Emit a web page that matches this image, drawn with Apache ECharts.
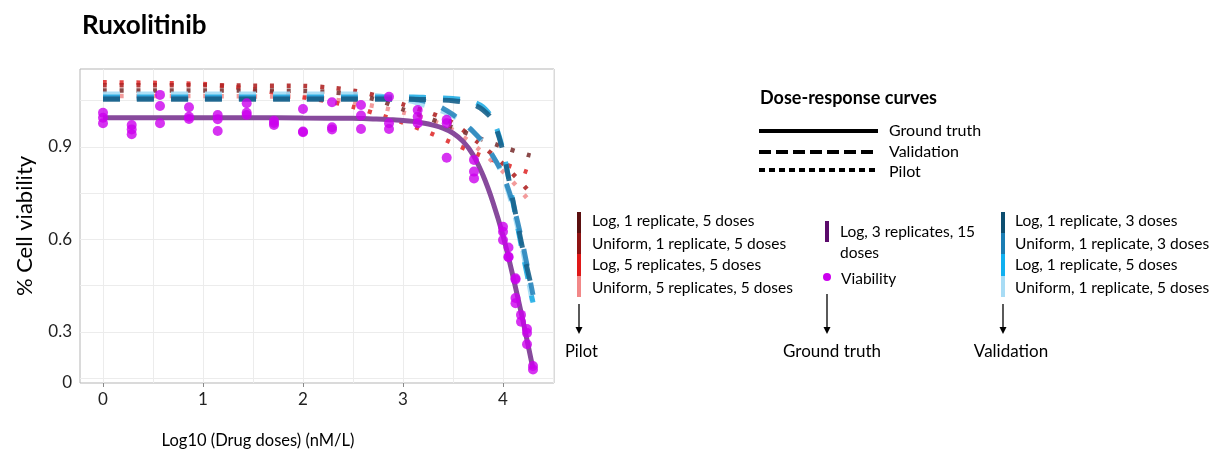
<!DOCTYPE html>
<html>
<head>
<meta charset="utf-8">
<script src="https://cdn.jsdelivr.net/npm/echarts@6/dist/echarts.min.js"></script>
<style>html,body{margin:0;padding:0;background:#fff}#c{width:1215px;height:456px}</style>
</head>
<body>
<div id="c"></div>
<script>
// ---- data ----
const xTickValues = [0, 1, 2, 3, 4];
const xGridValues = [0, 0.5, 1, 1.5, 2, 2.5, 3, 3.5, 4, 4.5];
const yTickValues = [0.134, 0.3, 0.6, 0.9];
const yTickLabels = ['0', '0.3', '0.6', '0.9'];
const yGridValues = [0.15, 0.3, 0.45, 0.6, 0.75, 0.9, 1.05];

const viability = [
  [0,1.011],[0,0.995],[0,0.977],
  [0.287,0.971],[0.287,0.957],[0.287,0.941],
  [0.57,1.069],[0.57,1.033],[0.57,0.977],
  [0.86,1.029],[0.86,0.998],[0.86,0.991],
  [1.147,1.004],[1.147,0.99],[1.147,0.952],
  [1.437,1.042],[1.437,1.011],[1.437,1.004],
  [1.71,0.985],[1.71,0.978],[1.71,0.971],
  [2.0,1.023],[2.0,0.95],[2.0,0.948],
  [2.29,1.045],[2.29,0.964],[2.29,0.957],
  [2.58,1.036],[2.58,1.002],[2.58,0.958],
  [2.86,1.063],[2.86,0.977],[2.86,0.958],
  [3.147,1.02],[3.147,0.998],[3.147,0.977],
  [3.437,0.988],[3.437,0.977],[3.437,0.865],
  [3.71,0.858],[3.71,0.82],[3.71,0.798],
  [4.0,0.641],[4.0,0.625],[4.0,0.598],
  [4.055,0.574],[4.055,0.544],[4.055,0.542],
  [4.125,0.474],[4.125,0.47],[4.125,0.41],[4.125,0.393],
  [4.18,0.355],[4.18,0.333],
  [4.24,0.309],[4.24,0.296],[4.24,0.26],
  [4.3,0.189],[4.3,0.178]
];

const groundTruth = [[0,0.995],[0.5,0.995],[1,0.995],[1.5,0.995],[2,0.994],[2.5,0.993],[2.6,0.992],[2.7,0.991],[2.8,0.99],[2.9,0.988],[3.0,0.986],[3.1,0.983],[3.2,0.978],[3.3,0.971],[3.4,0.961],[3.5,0.945],[3.6,0.918],[3.7,0.875],[3.8,0.808],[3.9,0.72],[4.0,0.612],[4.1,0.48],[4.2,0.335],[4.3,0.18]];

const valLog3 = [[0,1.055],[1,1.055],[2,1.055],[2.5,1.055],[3.0,1.055],[3.1,1.055],[3.2,1.054],[3.3,1.053],[3.4,1.052],[3.5,1.05],[3.6,1.046],[3.7,1.038],[3.8,1.02],[3.9,0.985],[4.0,0.885],[4.1,0.725],[4.2,0.565],[4.3,0.425]];
const valUnif3 = [[0,1.058],[1,1.058],[2,1.058],[2.5,1.058],[3.0,1.058],[3.1,1.055],[3.2,1.05],[3.3,1.04],[3.4,1.025],[3.5,1.005],[3.6,0.98],[3.7,0.95],[3.8,0.915],[3.9,0.87],[4.0,0.81],[4.1,0.715],[4.2,0.58],[4.3,0.42]];
const valLog5 = [[0,1.062],[1,1.062],[2,1.062],[2.5,1.062],[3.0,1.062],[3.1,1.062],[3.2,1.061],[3.3,1.06],[3.4,1.059],[3.5,1.057],[3.6,1.054],[3.7,1.047],[3.8,1.03],[3.9,0.99],[4.0,0.89],[4.1,0.72],[4.2,0.55],[4.3,0.395]];
const valUnif5 = [[0,1.072],[1,1.072],[2,1.072],[2.5,1.072],[2.6,1.07],[2.7,1.068],[2.8,1.064],[2.9,1.06],[3.0,1.055],[3.1,1.047],[3.2,1.037],[3.3,1.027],[3.4,1.015],[3.5,1.0],[3.6,0.98],[3.7,0.952],[3.8,0.915],[3.9,0.87],[4.0,0.805],[4.1,0.7],[4.2,0.56],[4.3,0.385]];

const pilotLog1 = [[0,1.083],[0.5,1.083],[1.0,1.083],[1.5,1.083],[2.0,1.082],[2.25,1.078],[2.5,1.07],[2.75,1.052],[3.0,1.022],[3.25,0.994],[3.5,0.963],[3.75,0.93],[4.0,0.9],[4.25,0.874],[4.3,0.87]];
const pilotUnif1 = [[0,1.1],[0.5,1.1],[1.0,1.1],[1.5,1.099],[2.0,1.098],[2.25,1.093],[2.5,1.083],[2.75,1.065],[3.0,1.038],[3.25,1.013],[3.5,0.978],[3.75,0.915],[4.0,0.845],[4.25,0.76],[4.3,0.74]];
const pilotLog5 = [[0,1.11],[0.5,1.108],[1.0,1.104],[1.25,1.097],[1.5,1.087],[1.75,1.075],[2.0,1.061],[2.25,1.048],[2.5,1.03],[2.75,1.006],[3.0,0.979],[3.25,0.948],[3.5,0.912],[3.75,0.876],[4.0,0.846],[4.25,0.818],[4.3,0.812]];
const pilotUnif5 = [[0,1.065],[0.5,1.065],[1.0,1.065],[1.5,1.064],[2.0,1.063],[2.25,1.056],[2.5,1.045],[2.75,1.03],[3.0,1.012],[3.25,0.99],[3.5,0.955],[3.75,0.895],[4.0,0.82],[4.25,0.73],[4.3,0.70]];

const pilotLabels = ['Log, 1 replicate, 5 doses','Uniform, 1 replicate, 5 doses','Log, 5 replicates, 5 doses','Uniform, 5 replicates, 5 doses'];
const validationLabels = ['Log, 1 replicate, 3 doses','Uniform, 1 replicate, 3 doses','Log, 1 replicate, 5 doses','Uniform, 1 replicate, 5 doses'];

// ---- styles ----
const FONT = 'Lato, "Open Sans", sans-serif';
const pilotColors = ['#7d3535','#b02626','#e03030','#f29090'];
const pilotBar = ['#5a0f0f','#8e1313','#e01818','#f28888'];
const valColors = ['#17608a','#2a86bc','#22aee6','#a3dcf5'];
const valBar = ['#0d4e70','#1a7db3','#10b0f0','#a8dcf5'];

function pilotSeries(data, color) {
  return {type:'line', data, smooth:0.3, showSymbol:false, symbol:'none',
    lineStyle:{color, width:4.5, type:[4,12.7], cap:'butt', opacity:0.9}, z:2, silent:true};
}
function valSeries(data, color) {
  return {type:'line', data, smooth:0.3, showSymbol:false, symbol:'none',
    lineStyle:{color, width:5, type:[17,17], cap:'butt', opacity:0.9}, z:3, silent:true};
}

const chart = echarts.init(document.getElementById('c'), null, {renderer:'canvas'});

const g = [];
function txt(x, y, t, opts) {
  g.push({type:'text', x:0, y:0, silent:true, style:Object.assign({x, y, text:t, fill:'#000', font:'15.5px ' + FONT, verticalAlign:'middle', align:'left'}, opts||{})});
}
function ln(x1,y1,x2,y2,stroke,lw,dash) {
  g.push({type:'line', silent:true, shape:{x1,y1,x2,y2}, style:{stroke, lineWidth:lw, lineDash:dash||null}});
}
function bar(x,y1,y2,fill) { g.push({type:'rect', silent:true, shape:{x:x-2,y:y1,width:4,height:y2-y1}, style:{fill}}); }
function arrow(x,y1,y2) {
  ln(x,y1,x,y2-6,'#000',1.3);
  g.push({type:'polygon', silent:true, shape:{points:[[x-3.5,y2-7],[x+3.5,y2-7],[x,y2]]}, style:{fill:'#000'}});
}

// Dose-response curves legend
txt(760, 98, 'Dose-response curves', {font:'bold 18px ' + FONT});
ln(759,131,878,131,'#000',4);
ln(759,152,878,152,'#000',4,[12,5]);
ln(759,170,878,170,'#000',4,[6,4]);
txt(889,131,'Ground truth', {font:'16px ' + FONT});
txt(889,152,'Validation', {font:'16px ' + FONT});
txt(889,172,'Pilot', {font:'16px ' + FONT});

// Pilot block
const segY = [212, 233, 254, 276, 297];
const txtY = [221, 244, 265, 288];
for (let i=0;i<4;i++) { bar(579, segY[i], segY[i+1], pilotBar[i]); txt(592, txtY[i], pilotLabels[i]); }
arrow(579, 304, 334);
txt(565, 352, 'Pilot', {font:'16.5px ' + FONT});

// Ground truth block
bar(827, 221, 242, '#5b0b6b');
txt(840, 232, 'Log, 3 replicates, 15');
txt(840, 253, 'doses');
g.push({type:'circle', silent:true, shape:{cx:827, cy:277, r:4}, style:{fill:'#cc00ee'}});
txt(841, 279, 'Viability');
arrow(827, 294, 334);
txt(832, 352, 'Ground truth', {font:'17px ' + FONT, align:'center'});

// Validation block
for (let i=0;i<4;i++) { bar(1003, segY[i], segY[i+1], valBar[i]); txt(1015, txtY[i], validationLabels[i]); }
arrow(1003, 304, 334);
txt(1011, 352, 'Validation', {font:'17px ' + FONT, align:'center'});

chart.setOption({
  animation:false,
  backgroundColor:'#fff',
  title:{text:'Ruxolitinib', left:77, top:8, textStyle:{fontFamily:FONT, fontWeight:'bold', fontSize:26, color:'#000'}},
  grid:{left:80, top:69, right:661, bottom:73, show:true, borderColor:'#b5b5b5', borderWidth:1, backgroundColor:'transparent'},
  xAxis:[{
    type:'value', min:-0.23, max:4.51,
    name:'Log10 (Drug doses) (nM/L)', nameLocation:'middle', nameGap:49,
    nameTextStyle:{fontFamily:FONT, fontSize:16.5, color:'#000', padding:[0,118,0,0]},
    axisLine:{show:false},
    axisTick:{show:true, length:4, lineStyle:{color:'#888'}, customValues:xTickValues},
    axisLabel:{customValues:xTickValues, fontFamily:FONT, fontSize:17, color:'#222', margin:8},
    splitLine:{show:false}
  },{
    type:'value', min:-0.23, max:4.51, position:'bottom',
    axisLine:{show:false}, axisLabel:{show:false},
    axisTick:{show:false, customValues:xGridValues},
    splitLine:{show:true, lineStyle:{color:'#ececec', width:1}}
  }],
  yAxis:[{
    type:'value', min:0.134, max:1.153,
    name:'% Cell viability', nameLocation:'middle', nameGap:44, nameRotate:90,
    nameTextStyle:{fontFamily:FONT, fontSize:22, color:'#000', padding:[0,0,0,0]},
    axisLine:{show:false},
    axisTick:{show:false, customValues:yGridValues},
    axisLabel:{customValues:yTickValues, fontFamily:FONT, fontSize:17, color:'#222', margin:8,
      formatter:function(v){ let best=0,d=1e9; yTickValues.forEach((t,i)=>{ if(Math.abs(t-v)<d){d=Math.abs(t-v);best=i;} }); return yTickLabels[best]; }},
    splitLine:{show:true, lineStyle:{color:'#ececec', width:1}}
  }],
  graphic:g,
  series:[
    pilotSeries(pilotUnif5, pilotColors[3]),
    pilotSeries(pilotLog5, pilotColors[2]),
    pilotSeries(pilotUnif1, pilotColors[1]),
    pilotSeries(pilotLog1, pilotColors[0]),
    valSeries(valUnif5, valColors[3]),
    valSeries(valLog5, valColors[2]),
    valSeries(valUnif3, valColors[1]),
    valSeries(valLog3, valColors[0]),
    {type:'line', data:groundTruth, smooth:0.3, showSymbol:false, symbol:'none',
      lineStyle:{color:'#874a9c', width:5}, z:4, silent:true},
    {type:'scatter', data:viability, symbolSize:10, itemStyle:{color:'#cc00ee'}, z:5, silent:true}
  ]
});
</script>
</body>
</html>
